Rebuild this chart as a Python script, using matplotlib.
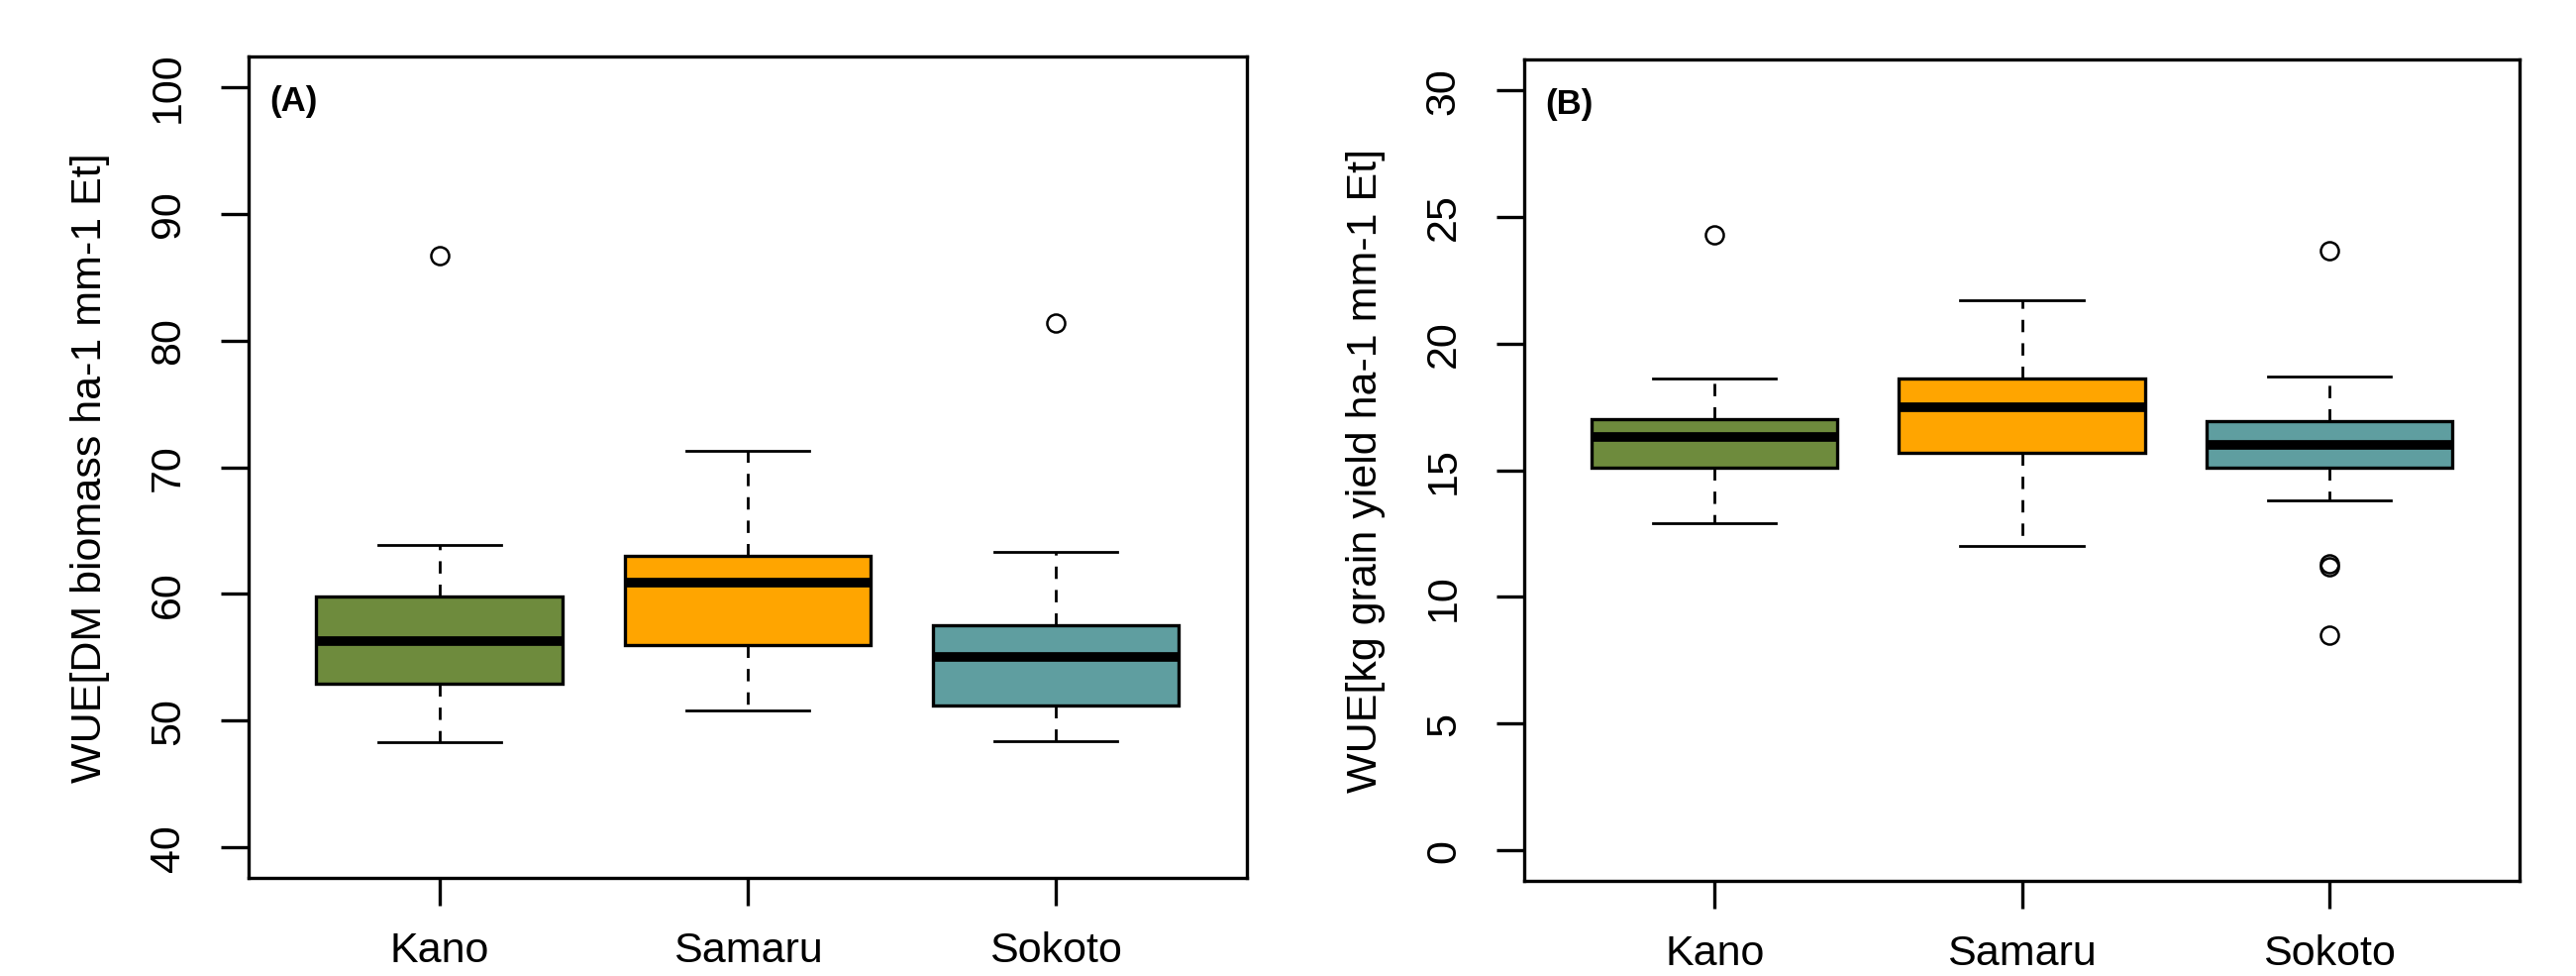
import matplotlib
matplotlib.use("Agg")
import matplotlib.pyplot as plt

plt.rcParams['font.family'] = ['Liberation Sans', 'DejaVu Sans']

sites = ["Kano", "Samaru", "Sokoto"]
colors = ["#6E8B3D", "#FFA500", "#5F9EA0"]

# panel A: WUE biomass
a_whislo = [48.3, 50.8, 48.4]
a_q1 = [52.9, 56.0, 51.2]
a_med = [56.3, 60.9, 55.0]
a_q3 = [59.8, 63.0, 57.5]
a_whishi = [63.9, 71.3, 63.3]
a_fliers = [[86.7], [], [81.4]]

# panel B: WUE grain yield
b_whislo = [12.9, 12.0, 13.8]
b_q1 = [15.1, 15.7, 15.1]
b_med = [16.3, 17.5, 16.0]
b_q3 = [17.0, 18.6, 16.95]
b_whishi = [18.6, 21.7, 18.7]
b_fliers = [[24.3], [], [23.65, 11.2, 11.3, 8.5]]


def make_stats(lo, q1, med, q3, hi, fl):
    out = []
    for i in range(len(sites)):
        out.append(dict(label=sites[i], whislo=lo[i], q1=q1[i], med=med[i],
                        q3=q3[i], whishi=hi[i], fliers=fl[i]))
    return out


def draw_panel(ax, stats, ylim, yticks, ylabel, tag):
    bp = ax.bxp(stats, positions=[1, 2, 3], widths=0.8, capwidths=0.4,
                patch_artist=True, showfliers=True,
                boxprops=dict(linewidth=2.4, edgecolor="black"),
                whiskerprops=dict(linewidth=2.0, linestyle=(0, (4.5, 4)), color="black"),
                capprops=dict(linewidth=2.0, color="black"),
                medianprops=dict(linewidth=7, color="black", solid_capstyle="butt"),
                flierprops=dict(marker="o", markersize=13, markerfacecolor="none",
                                markeredgecolor="black", markeredgewidth=1.8))
    for patch, c in zip(bp["boxes"], colors):
        patch.set_facecolor(c)
    pad = (ylim[1] - ylim[0]) * 0.04
    ax.set_ylim(ylim[0] - pad, ylim[1] + pad)
    ax.set_xlim(0.38, 3.62)
    ax.set_yticks(yticks)
    ax.set_xticks([1, 2, 3])
    ax.set_xticklabels(sites)
    for s in ax.spines.values():
        s.set_linewidth(2.4)
    ax.tick_params(axis="both", length=20, width=2.4, labelsize=31)
    ax.tick_params(axis="y", labelrotation=90, pad=24)
    ax.tick_params(axis="x", pad=18)
    for t in ax.get_yticklabels():
        t.set_va("center")
    ax.set_ylabel(ylabel, fontsize=31)
    ax.yaxis.set_label_coords(-0.139, 0.5)
    ax.text(0.021, 0.946, tag, transform=ax.transAxes, fontsize=25,
            fontweight="bold", ha="left", va="center")


fig = plt.figure(figsize=(26.01, 9.859), dpi=100)
ax1 = fig.add_axes([0.0965, 0.1004, 0.3875, 0.8408])
ax2 = fig.add_axes([0.5917, 0.0974, 0.3864, 0.8408])

draw_panel(ax1, make_stats(a_whislo, a_q1, a_med, a_q3, a_whishi, a_fliers),
           (40, 100), [40, 50, 60, 70, 80, 90, 100],
           "WUE[DM biomass ha-1 mm-1 Et]", "(A)")
draw_panel(ax2, make_stats(b_whislo, b_q1, b_med, b_q3, b_whishi, b_fliers),
           (0, 30), [0, 5, 10, 15, 20, 25, 30],
           "WUE[kg grain yield ha-1 mm-1 Et]", "(B)")

fig.savefig("out.png", dpi=100)
